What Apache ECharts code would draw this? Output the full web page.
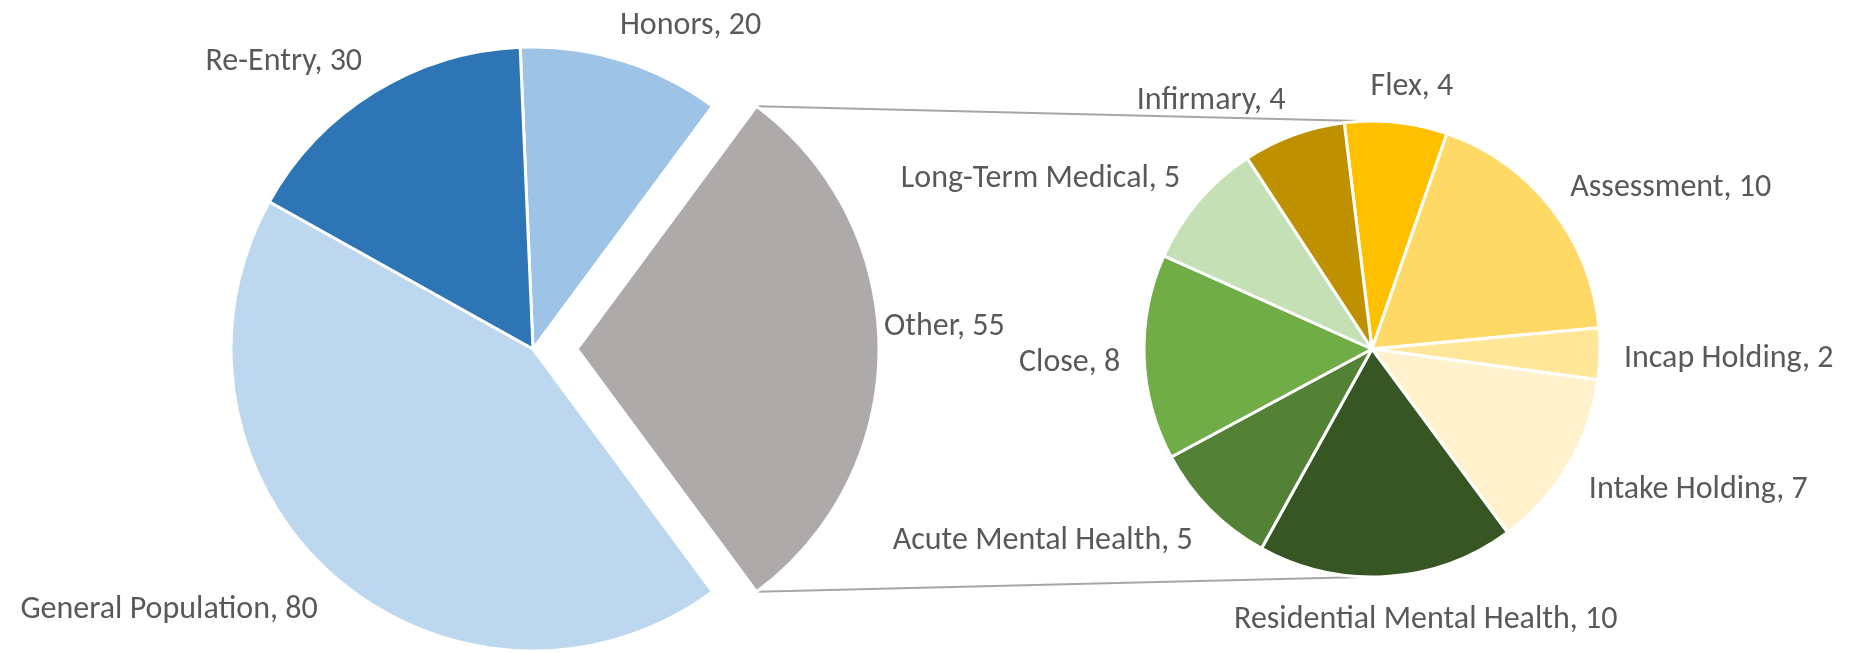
<!DOCTYPE html>
<html>
<head>
<meta charset="utf-8">
<script src="https://cdn.jsdelivr.net/npm/echarts@6/dist/echarts.min.js"></script>
<style>
  html, body { margin: 0; padding: 0; background: #fff; }
  #chart { width: 1859px; height: 653px; }
</style>
</head>
<body>
<div id="chart"></div>
<script>
// main pie (clockwise from start)
var mainNames = ["Honors", "Other", "General Population", "Re-Entry"];
var mainValues = [20, 55, 80, 30];
var mainColors = ["#9DC3E6", "#AEAAAA", "#BDD7EE", "#2E75B6"];

// secondary pie: breakdown of "Other"
var subNames = ["Flex", "Assessment", "Incap Holding", "Intake Holding",
  "Residential Mental Health", "Acute Mental Health", "Close",
  "Long-Term Medical", "Infirmary"];
var subValues = [4, 10, 2, 7, 10, 5, 8, 5, 4];
var subColors = ["#FFC000", "#FFD966", "#FFE699", "#FFF2CC",
  "#375623", "#538135", "#70AD47", "#C5E0B4", "#BF9000"];

var otherIndex = 1;

// geometry
var c1 = [533, 349], r1 = 302, explode = 44;
var c2 = [1372, 349], r2 = 228;

function sum(a) { return a.reduce(function (s, v) { return s + v; }, 0); }

// "Other" slice is centred on 3 o'clock, as Excel does
var mainTotal = sum(mainValues);
var before = 0;
for (var i = 0; i < otherIndex; i++) before += mainValues[i];
var mainStartClock = 90 - (mainValues[otherIndex] / 2 + before) / mainTotal * 360;
var subStartClock = -7;

function midAngles(values, startClock) {
  var total = sum(values), acc = 0;
  return values.map(function (v) {
    var m = startClock + (acc + v / 2) / total * 360;
    acc += v;
    return m;
  });
}
var mainMid = midAngles(mainValues, mainStartClock);
var subMid = midAngles(subValues, subStartClock);

function dir(clockDeg) {
  var a = clockDeg * Math.PI / 180;
  return [Math.sin(a), -Math.cos(a)];
}
function clamp(v) { return Math.max(-1, Math.min(1, v)); }

// excel-like "outside end" label placement
function makeLayout(center, radius, mids, gap, dy) {
  return function (params) {
    var i = params.dataIndex;
    var u = dir(mids[i]);
    var R = radius + gap;
    var w = params.labelRect.width, h = params.labelRect.height;
    var ax = center[0] + R * u[0], ay = center[1] + R * u[1];
    return {
      x: ax + w / 2 * clamp(u[0] * 3),
      y: ay + h / 2 * u[1] + dy,
      align: 'center',
      verticalAlign: 'middle'
    };
  };
}

// exploded "Other" slice centre
var um = dir(mainMid[otherIndex]);
var ec = [c1[0] + explode * um[0], c1[1] + explode * um[1]];

// connector lines from the exploded slice to the secondary pie
var otherStart = mainStartClock + before / mainTotal * 360;
var otherEnd = otherStart + mainValues[otherIndex] / mainTotal * 360;
var us = dir(otherStart), ue = dir(otherEnd);
var pTop = [ec[0] + r1 * us[0], ec[1] + r1 * us[1]];
var pBot = [ec[0] + r1 * ue[0], ec[1] + r1 * ue[1]];

var labelStyle = {
  show: true,
  position: 'outside',
  formatter: '{b}, {c}',
  color: '#595959',
  fontFamily: 'Carlito, "Open Sans", sans-serif',
  fontSize: 32
};

function mainData(onlyOther) {
  return mainNames.map(function (n, i) {
    var show = (i === otherIndex) === onlyOther;
    return {
      name: n, value: mainValues[i],
      itemStyle: show ? { color: mainColors[i] } : { color: 'rgba(0,0,0,0)', borderWidth: 0 },
      label: { show: show }
    };
  });
}

var chart = echarts.init(document.getElementById('chart'));
chart.setOption({
  backgroundColor: '#fff',
  animation: false,
  graphic: [
    { type: 'line', z: 0, shape: { x1: pTop[0], y1: pTop[1], x2: c2[0] - 12, y2: c2[1] - r2 },
      style: { stroke: '#A6A6A6', lineWidth: 2 } },
    { type: 'line', z: 0, shape: { x1: pBot[0], y1: pBot[1], x2: c2[0] - 8, y2: c2[1] + r2 },
      style: { stroke: '#A6A6A6', lineWidth: 2 } }
  ],
  series: [
    {
      type: 'pie',
      center: c1,
      radius: r1,
      startAngle: 90 - mainStartClock,
      avoidLabelOverlap: false,
      emphasis: { disabled: true },
      itemStyle: { borderColor: '#fff', borderWidth: 3 },
      label: labelStyle,
      labelLine: { show: false },
      labelLayout: makeLayout(c1, r1, mainMid, 24, 4),
      data: mainData(false)
    },
    {
      // the exploded "Other" slice
      type: 'pie',
      center: ec,
      radius: r1,
      startAngle: 90 - mainStartClock,
      avoidLabelOverlap: false,
      emphasis: { disabled: true },
      itemStyle: { borderColor: '#fff', borderWidth: 3 },
      label: labelStyle,
      labelLine: { show: false },
      labelLayout: makeLayout(ec, r1, mainMid, 5, -22),
      data: mainData(true)
    },
    {
      type: 'pie',
      center: c2,
      radius: r2,
      startAngle: 90 - subStartClock,
      avoidLabelOverlap: false,
      emphasis: { disabled: true },
      itemStyle: { borderColor: '#fff', borderWidth: 3 },
      label: labelStyle,
      labelLine: { show: false },
      labelLayout: makeLayout(c2, r2, subMid, 24, 4),
      data: subNames.map(function (n, i) {
        return { name: n, value: subValues[i], itemStyle: { color: subColors[i] } };
      })
    }
  ]
});
</script>
</body>
</html>
